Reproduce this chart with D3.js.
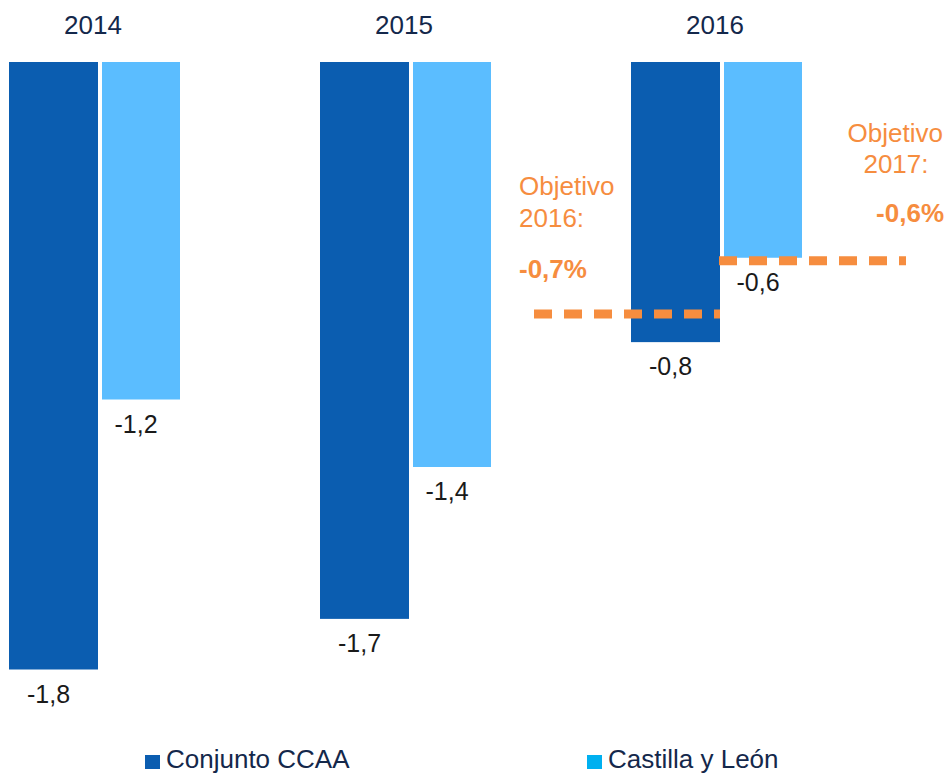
<!DOCTYPE html>
<html>
<head>
<meta charset="utf-8">
<script src="https://cdn.jsdelivr.net/npm/d3@7"></script>
<style>
  body { margin: 0; background: #fff; }
  svg { display: block; font-family: "Liberation Sans", Arial, sans-serif; }
</style>
</head>
<body>
<div id="chart"></div>
<script>
// years and series
const years = ['2014', '2015', '2016'];
const series = ['Conjunto CCAA', 'Castilla y León'];

// bar lengths as drawn (deficit, % PIB) and the labels printed under them
const ccaaValues = [-1.80, -1.65, -0.83];
const cylValues = [-1.00, -1.20, -0.58];
const ccaaLabels = ['-1,8', '-1,7', '-0,8'];
const cylLabels = ['-1,2', '-1,4', '-0,6'];

// deficit targets (dashed lines)
const targetYears = ['2016', '2017'];
const targetValues = [-0.747, -0.589];
const targetLabels = ['-0,7%', '-0,6%'];

const barColors = ['#0B5DB0', '#5BBDFF'];
const barWidths = [89, 78];
const legendColors = ['#0B5DB0', '#00B0F0'];
const orange = '#F68D3F';

const width = 949, height = 773;

const svg = d3.select('#chart').append('svg')
    .attr('width', width)
    .attr('height', height);

const x0 = d3.scaleBand()
    .domain(years)
    .range([9, 9 + 311 * years.length]);

// offset of each series inside a year group
const x1 = d3.scaleOrdinal()
    .domain(series)
    .range([0, 93]);

const y = d3.scaleLinear()
    .domain([0, -1.8])
    .range([62, 669.5]);

const data = years.map((yr, i) => ({
    year: yr,
    values: [
        {name: series[0], idx: 0, value: ccaaValues[i], label: ccaaLabels[i]},
        {name: series[1], idx: 1, value: cylValues[i], label: cylLabels[i]}
    ]
}));

// year labels on top
svg.selectAll('.year')
    .data(years)
    .join('text')
    .attr('class', 'year')
    .attr('x', d => x0(d) + 84)
    .attr('y', 34)
    .attr('text-anchor', 'middle')
    .style('font-size', '26px')
    .style('fill', '#14284B')
    .text(d => d);

const group = svg.selectAll('.grp')
    .data(data)
    .join('g')
    .attr('class', 'grp')
    .attr('transform', d => `translate(${x0(d.year)},0)`);

group.selectAll('rect')
    .data(d => d.values)
    .join('rect')
    .attr('x', d => x1(d.name))
    .attr('width', d => barWidths[d.idx])
    .attr('y', y(0))
    .attr('height', d => y(d.value) - y(0))
    .style('fill', d => barColors[d.idx]);

group.selectAll('.val')
    .data(d => d.values)
    .join('text')
    .attr('class', 'val')
    .attr('x', d => x1(d.name) + barWidths[d.idx] / 2 - 5)
    .attr('y', d => y(d.value) + 33)
    .attr('text-anchor', 'middle')
    .style('font-size', '25px')
    .style('fill', '#1a1a1a')
    .text(d => d.label);

// dashed target lines
const xs = x0('2016');
const lineSpans = [
    [xs - 97, xs + x1(series[0]) + barWidths[0]],
    [xs + x1(series[1]) - 5, xs + 275]
];

svg.selectAll('.target')
    .data(targetValues)
    .join('line')
    .attr('class', 'target')
    .attr('x1', (d, i) => lineSpans[i][0])
    .attr('x2', (d, i) => lineSpans[i][1])
    .attr('y1', d => y(d))
    .attr('y2', d => y(d))
    .style('stroke', orange)
    .style('stroke-width', 9)
    .style('stroke-dasharray', '18 12');

// target annotations
const ann1 = svg.append('g').style('fill', orange).style('font-size', '26px');
ann1.append('text').attr('x', 519).attr('y', 195).text('Objetivo');
ann1.append('text').attr('x', 519).attr('y', 227).text(targetYears[0] + ':');
ann1.append('text').attr('x', 519).attr('y', 278)
    .style('font-weight', 'bold').text(targetLabels[0]);

const ann2 = svg.append('g').style('fill', orange).style('font-size', '26px');
ann2.append('text').attr('x', 943).attr('y', 142).attr('text-anchor', 'end').text('Objetivo');
ann2.append('text').attr('x', 896).attr('y', 173).attr('text-anchor', 'middle').text(targetYears[1] + ':');
ann2.append('text').attr('x', 944).attr('y', 222).attr('text-anchor', 'end')
    .style('font-weight', 'bold').text(targetLabels[1]);

// legend
const legendX = [145, 587];
const legend = svg.selectAll('.legend')
    .data(series)
    .join('g')
    .attr('class', 'legend')
    .attr('transform', (d, i) => `translate(${legendX[i]},0)`);

legend.append('rect')
    .attr('x', 0)
    .attr('y', 755)
    .attr('width', 15)
    .attr('height', 14)
    .style('fill', (d, i) => legendColors[i]);

legend.append('text')
    .attr('x', 21)
    .attr('y', 768)
    .style('font-size', '26px')
    .style('fill', '#14284B')
    .text(d => d);
</script>
</body>
</html>
